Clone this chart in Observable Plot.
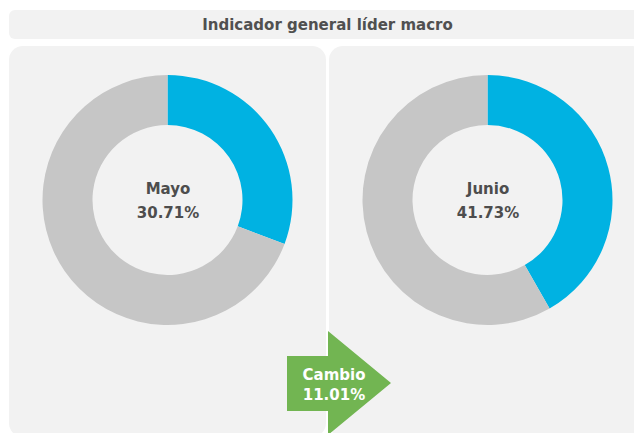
<!DOCTYPE html>
<html>
<head>
<meta charset="utf-8">
<script src="https://cdn.jsdelivr.net/npm/d3@7"></script>
<script src="https://cdn.jsdelivr.net/npm/@observablehq/plot@0.6"></script>
<style>
  html, body { margin: 0; padding: 0; background: #ffffff; overflow: hidden; }
  #root { position: relative; width: 634px; height: 433px; overflow: hidden; font-family: "DejaVu Sans", sans-serif; }
  .title { position: absolute; left: 9px; top: 10px; width: 637px; height: 29px; background: #f2f2f2; border-radius: 6px;
           display: flex; align-items: center; justify-content: center; font-weight: bold; font-size: 15px; color: #505050; }
  .panel { position: absolute; top: 46px; width: 317px; height: 391px; background: #f2f2f2; border-radius: 14px; overflow: hidden; }
  .panel svg { display: block; }
  .arrow { position: absolute; left: 287px; top: 331px; width: 104px; height: 104px; background: #72b552;
           clip-path: polygon(0px 25px, 41px 25px, 41px 0px, 104px 52px, 41px 104px, 41px 80px, 0px 80px); }
  .arrowtext { position: absolute; left: 287px; top: 365px; width: 94px; text-align: center; color: #ffffff;
               font-weight: bold; font-size: 15px; line-height: 20px; white-space: pre; }
</style>
</head>
<body>
<div id="root"></div>
<script>
// ---- data ----
const titulo = "Indicador general líder macro";
const meses = ["Mayo", "Junio"];
const valores = [30.71, 41.73];
const cambioEtiqueta = "Cambio";
const cambio = 11.01;
const partes = ["valor", "resto"];
const colores = ["#00b2e2", "#c6c6c6"];

const root = document.getElementById("root");

const t = document.createElement("div");
t.className = "title";
t.textContent = titulo;
root.appendChild(t);

function donut(mes, valor) {
  const W = 317, H = 308, R = 125, r0 = 75;
  const sx = W / 2 / R, sy = H / 2 / R;
  const slices = [
    {parte: partes[0], inicio: 0, fin: valor},
    {parte: partes[1], inicio: valor, fin: 100}
  ];
  return Plot.plot({
    width: W,
    height: H,
    margin: 0,
    x: {domain: [-sx, sx], axis: null},
    y: {domain: [-sy, sy], axis: null},
    style: {background: "transparent", fontFamily: "DejaVu Sans, sans-serif"},
    marks: [
      (index, scales) => {
        const cx = scales.x(0), cy = scales.y(0);
        const k = scales.x(1) - scales.x(0);
        const arc = d3.arc().innerRadius(k * r0 / R).outerRadius(k);
        const g = d3.create("svg:g").attr("transform", `translate(${cx},${cy})`);
        g.selectAll("path")
          .data(slices)
          .join("path")
          .attr("d", d => arc({startAngle: d.inicio / 100 * 2 * Math.PI, endAngle: d.fin / 100 * 2 * Math.PI}))
          .attr("fill", d => colores[partes.indexOf(d.parte)]);
        return g.node();
      },
      Plot.text([{mes, valor}], {
        x: 0,
        y: 0,
        dy: -2,
        text: d => `${d.mes}\n${d.valor.toFixed(2)}%`,
        fontSize: 15,
        fontWeight: "bold",
        lineHeight: 1.6,
        fill: "#4d4d4d",
        textAnchor: "middle"
      })
    ]
  });
}

meses.forEach((mes, i) => {
  const p = document.createElement("div");
  p.className = "panel";
  p.style.left = (9 + i * 320) + "px";
  p.appendChild(donut(mes, valores[i]));
  root.appendChild(p);
});

const a = document.createElement("div");
a.className = "arrow";
root.appendChild(a);
const at = document.createElement("div");
at.className = "arrowtext";
at.textContent = `${cambioEtiqueta}\n${cambio.toFixed(2)}%`;
root.appendChild(at);
</script>
</body>
</html>
